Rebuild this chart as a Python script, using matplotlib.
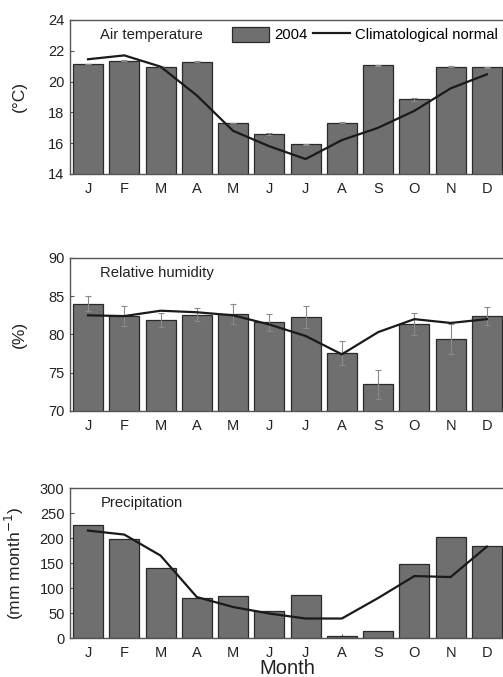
import numpy as np
import matplotlib.pyplot as plt
from matplotlib.patches import Patch
from matplotlib.lines import Line2D

plt.rcParams['font.family'] = ['Liberation Sans', 'DejaVu Sans']

months = ['J', 'F', 'M', 'A', 'M', 'J', 'J', 'A', 'S', 'O', 'N', 'D']

# air temperature (degC)
temp_2004 = [21.15, 21.35, 20.97, 21.3, 17.3, 16.58, 15.93, 17.32, 21.05, 18.85, 20.97, 20.93]
temp_err = [0.02, 0.02, 0.02, 0.04, 0.02, 0.05, 0.02, 0.04, 0.02, 0.1, 0.03, 0.03]
temp_normal = [21.45, 21.7, 20.97, 19.1, 16.8, 15.8, 14.97, 16.2, 17.0, 18.1, 19.56, 20.47]

# relative humidity (%)
rh_2004 = [84.0, 82.45, 81.9, 82.6, 82.7, 81.6, 82.3, 77.6, 73.5, 81.35, 79.4, 82.4]
rh_err = [1.0, 1.3, 0.9, 0.9, 1.3, 1.1, 1.4, 1.6, 1.9, 1.4, 2.0, 1.2]
rh_normal = [82.5, 82.4, 83.1, 82.9, 82.5, 81.3, 79.8, 77.4, 80.3, 82.0, 81.5, 82.0]

# precipitation (mm/month)
prec_2004 = [226, 199, 140, 80, 85, 55, 87, 4, 15, 149, 203, 185]
prec_normal = [215, 207, 165, 82, 62, 49, 39, 39, 80, 124, 122, 183]

bar_color = '#6f6f6f'
edge_color = '#2a2a2a'
spine_color = '#555555'
text_color = '#222222'

fig = plt.figure(figsize=(5.03, 6.77), dpi=100)
left, width = 0.139, 0.865
panels = [
    (0.743, 0.2275, temp_2004, temp_err, temp_normal, (14, 24), [14, 16, 18, 20, 22, 24], '(°C)', 'Air temperature'),
    (0.393, 0.226, rh_2004, rh_err, rh_normal, (70, 90), [70, 75, 80, 85, 90], '(%)', 'Relative humidity'),
    (0.0576, 0.2214, prec_2004, None, prec_normal, (0, 300), [0, 50, 100, 150, 200, 250, 300], '(mm month$^{-1}$)', 'Precipitation'),
]

x = np.arange(len(months))
axes = []
for bottom, height, bars, err, normal, ylim, yticks, ylabel, title in panels:
    ax = fig.add_axes([left, bottom, width, height])
    ax.bar(x, bars, width=0.83, color=bar_color, edgecolor=edge_color, linewidth=0.9, zorder=2)
    if err is not None:
        ax.errorbar(x, bars, yerr=err, fmt='none', ecolor='#8a8a8a', elinewidth=0.8,
                    capsize=2, capthick=0.8, zorder=3)
    ax.plot(x, normal, color='#1a1a1a', linewidth=1.6, zorder=4)
    ax.set_xlim(-0.5, 11.5)
    ax.set_ylim(*ylim)
    ax.set_yticks(yticks)
    ax.set_xticks(x)
    ax.set_xticklabels(months)
    ax.tick_params(direction='in', length=3, width=0.8, colors=spine_color,
                   labelcolor=text_color, labelsize=10.5, pad=4)
    ax.tick_params(axis='x', pad=6)
    for s in ax.spines.values():
        s.set_color(spine_color)
        s.set_linewidth(1.0)
    ax.set_ylabel(ylabel, fontsize=12.5, color=text_color)
    ax.text(0.07, 0.9, title, transform=ax.transAxes, fontsize=10.7,
            color=text_color, va='center', ha='left')
    axes.append(ax)

for ax in axes:
    ax.yaxis.set_label_coords(-0.1, 0.5)

axes[2].set_xlabel('Month', fontsize=14.5, color=text_color, labelpad=-1)

handles = [Patch(facecolor=bar_color, edgecolor=edge_color, linewidth=0.9),
           Line2D([0], [0], color='#1a1a1a', linewidth=1.6)]
axes[0].legend(handles, ['2004', 'Climatological normal'], loc='upper right',
               bbox_to_anchor=(1.01, 1.03), ncol=2, frameon=False, fontsize=10.7,
               handlelength=2.5, handleheight=1.1, columnspacing=0.4, handletextpad=0.3,
               borderpad=0.3)

fig.savefig('out.png', dpi=100)
